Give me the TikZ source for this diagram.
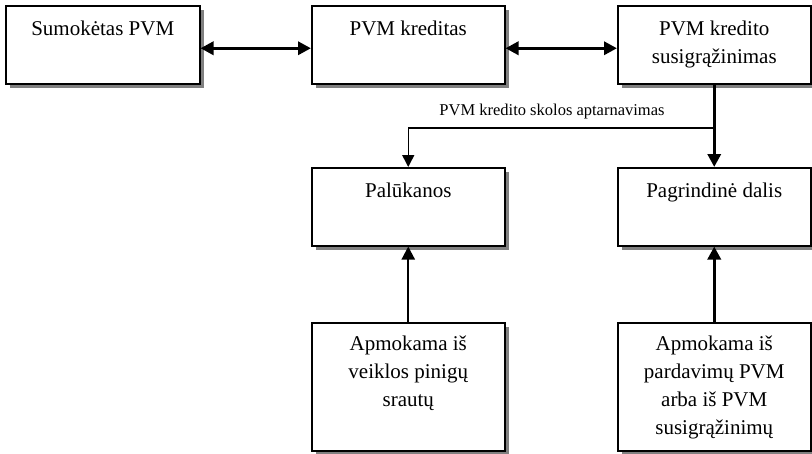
\documentclass[tikz,border=0pt]{standalone}
\usepackage{fontspec}
\setmainfont{Liberation Serif}
\usetikzlibrary{arrows.meta,shadows}
\tikzset{
  box/.style={draw, line width=1.5pt, fill=white, anchor=north west,
    minimum width=193pt, inner sep=0pt,
    drop shadow={shadow xshift=4pt, shadow yshift=-4pt, fill=black!50, opacity=1}},
  txt/.style={align=center, anchor=base, inner sep=0pt, font=\fontsize{21}{28}\selectfont},
  bigarrow/.style={line width=3.5pt, -{Triangle[length=13pt,width=13pt]}},
  twoarrow/.style={line width=3.5pt, {Triangle[length=13pt,width=13pt]}-{Triangle[length=13pt,width=13pt]}},
  thinarrow/.style={line width=1.5pt, -{Triangle[length=12pt,width=12pt]}},
  midarrow/.style={line width=2.2pt, -{Triangle[length=13pt,width=13pt]}}
}
\begin{document}
\begin{tikzpicture}[x=1pt,y=-1pt]
\useasboundingbox (0,0) rectangle (812,453);
% top row
\node[box, minimum width=194pt, minimum height=78pt] (sum) at (5,5) {};
\node[box, minimum height=78pt] (kred) at (311,5) {};
\node[box, minimum height=78pt] (grz) at (617,5) {};
\node[txt] (sumt) at (sum.north |- 0,35) {Sumokėtas PVM};
\node[txt] (kredt) at (kred.north |- 0,35) {PVM kreditas};
% base anchor sits on the last line
\node[txt] (grzt) at (grz.north |- 0,63) {PVM kredito\\susigrąžinimas};
% middle row
\node[box, minimum height=78pt] (pal) at (311,167) {};
\node[box, minimum height=78pt] (pagr) at (617,167) {};
\node[txt] (palt) at (pal.north |- 0,197) {Palūkanos};
\node[txt] (pagrt) at (pagr.north |- 0,197) {Pagrindinė dalis};
% bottom row
\node[box, minimum height=128pt] (apm1) at (311,322) {};
\node[box, minimum height=128pt] (apm2) at (617,322) {};
\node[txt] (apm1t) at (apm1.north |- 0,406) {Apmokama iš\\veiklos pinigų\\srautų};
\node[txt] (apm2t) at (apm2.north |- 0,434) {Apmokama iš\\pardavimų PVM\\arba iš PVM\\susigrąžinimų};
% connectors
\draw[twoarrow] ([yshift=-3.5pt]sum.east) -- ([yshift=-3.5pt]kred.west);
\draw[twoarrow] ([yshift=-3.5pt]kred.east) -- ([yshift=-3.5pt]grz.west);
\draw[bigarrow] (grz.south) -- (pagr.north);
\coordinate (split) at (grz.south |- 0,128);
\draw[thinarrow] (split) -| (pal.north);
\node[txt, font=\fontsize{16.5}{20}\selectfont] (servt) at (552,115) {PVM kredito skolos aptarnavimas};
\draw[midarrow] (apm1.north) -- (pal.south);
\draw[bigarrow] (apm2.north) -- (pagr.south);
\end{tikzpicture}
\end{document}
